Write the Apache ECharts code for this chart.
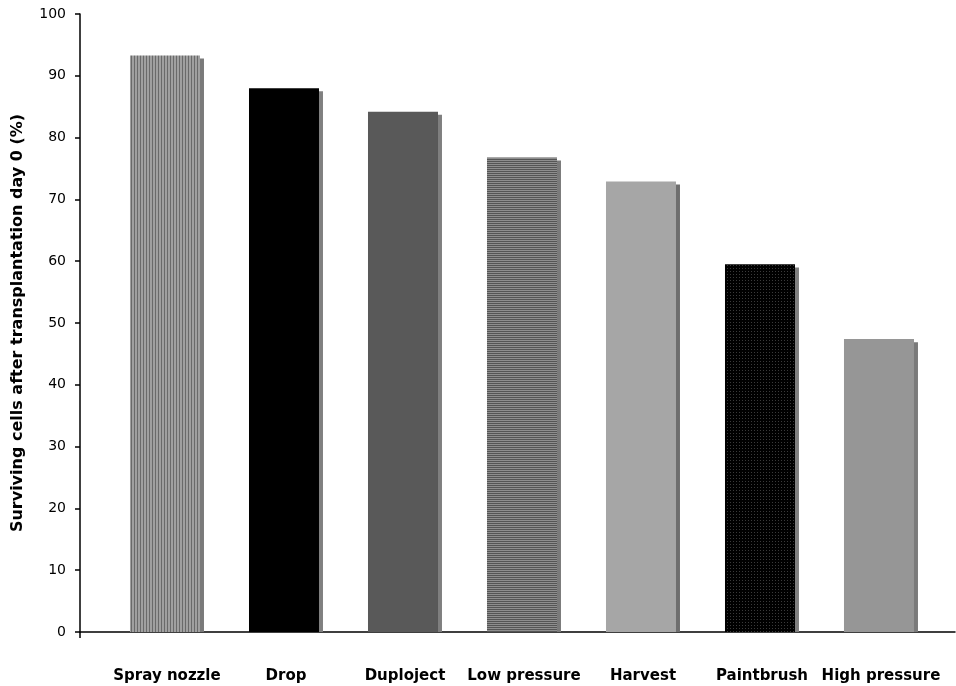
<!DOCTYPE html>
<html>
<head>
<meta charset="utf-8">
<script src="https://cdn.jsdelivr.net/npm/echarts@6/dist/echarts.min.js"></script>
<style>html,body{margin:0;padding:0;background:#fff}#c{width:956px;height:686px}</style>
</head>
<body>
<div id="c"></div>
<script>
const categories = ['Spray nozzle', 'Drop', 'Duploject', 'Low pressure', 'Harvest', 'Paintbrush', 'High pressure'];
const survival = [93.3, 88.0, 84.2, 76.8, 72.9, 59.5, 47.4];
const yTicks = [0, 10, 20, 30, 40, 50, 60, 70, 80, 90, 100];

function pattern(w, h, bg, fg, pixels) {
  const c = document.createElement('canvas');
  c.width = w; c.height = h;
  const ctx = c.getContext('2d');
  ctx.fillStyle = bg; ctx.fillRect(0, 0, w, h);
  ctx.fillStyle = fg;
  pixels.forEach(p => ctx.fillRect(p[0], p[1], p[2], p[3]));
  return { image: c, repeat: 'repeat' };
}
const vStripes = pattern(3, 1, '#a0a0a0', '#6a6a6a', [[2, 0, 1, 1]]);
const hStripes = pattern(1, 2, '#8e8e8e', '#555555', [[0, 1, 1, 1]]);
const dots = pattern(3, 3, '#000000', '#3a3a3a', [[1, 1, 1, 1]]);

const fills = [vStripes, '#000000', '#595959', hStripes, '#a6a6a6', dots, '#969696'];
const shadows = ['#7a7a7a', '#808080', '#7f7f7f', '#7a7a7a', '#6e6e6e', '#808080', '#7a7a7a'];
// shadow drop (value units) of the 3D effect
const shadowDrop = 0.5;

const chart = echarts.init(document.getElementById('c'));
const xMin = -0.731, xMax = 6.622;
const font = 'DejaVu Sans';
chart.setOption({
  animation: false,
  grid: { left: 80, right: 1, top: 14, bottom: 54, containLabel: false },
  xAxis: {
    type: 'value', min: xMin, max: xMax,
    splitLine: { show: false },
    axisLine: { show: true, onZero: false, lineStyle: { color: '#000', width: 1.5 } },
    axisTick: { show: true, customValues: [xMin], length: 6, lineStyle: { color: '#000', width: 1.5 } },
    axisLabel: {
      customValues: categories.map((_, i) => i),
      formatter: v => categories[Math.round(v)],
      margin: 37, color: '#000', fontFamily: font, fontWeight: 'bold', fontSize: 15
    }
  },
  yAxis: {
    type: 'value', min: 0, max: 100, interval: 10,
    name: 'Surviving cells after transplantation day 0 (%)',
    nameLocation: 'middle', nameGap: 54, nameRotate: 90,
    nameTextStyle: { color: '#000', fontFamily: font, fontWeight: 'bold', fontSize: 16 },
    splitLine: { show: false },
    axisLine: { show: true, onZero: false, lineStyle: { color: '#000', width: 1.5 } },
    axisTick: { show: true, length: 5, inside: false, lineStyle: { color: '#000', width: 1.5 } },
    axisLabel: {
      formatter: v => yTicks.includes(v) ? String(v) : '',
      margin: 14, color: '#000', fontFamily: font, fontSize: 14
    }
  },
  series: [{
    type: 'bar',
    barWidth: 70,
    barGap: '-94.3%',
    z: 3,
    data: survival.map((v, i) => ({ value: [i, v], itemStyle: { color: fills[i] } }))
  }, {
    type: 'bar',
    barWidth: 70,
    z: 2,
    silent: true,
    data: survival.map((v, i) => ({ value: [i, v - shadowDrop], itemStyle: { color: shadows[i] } }))
  }]
});
</script>
</body>
</html>
